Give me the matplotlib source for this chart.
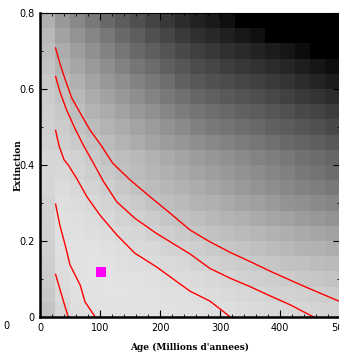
import numpy as np
import matplotlib.pyplot as plt

# Grey level of each cell (0 = black, 255 = white), rows from top (0.8) to bottom (0)
grey = [
    [176, 152, 136, 120, 106, 92, 80, 68, 56, 44, 34, 26, 16, 0, 0, 0, 0, 0, 0, 0],
    [184, 162, 148, 134, 120, 106, 94, 82, 70, 58, 48, 40, 32, 24, 16, 0, 0, 0, 0, 0],
    [190, 172, 158, 144, 130, 118, 106, 94, 84, 74, 64, 56, 48, 42, 34, 28, 22, 12, 0, 0],
    [196, 180, 166, 154, 142, 130, 118, 108, 96, 86, 76, 70, 62, 56, 50, 44, 38, 30, 22, 14],
    [200, 188, 176, 164, 152, 142, 130, 120, 110, 98, 88, 82, 76, 70, 64, 58, 52, 44, 36, 28],
    [204, 194, 184, 172, 162, 152, 142, 132, 122, 112, 102, 96, 90, 84, 78, 72, 66, 58, 52, 44],
    [206, 200, 190, 180, 172, 162, 152, 144, 134, 124, 116, 110, 104, 98, 92, 86, 80, 74, 68, 60],
    [208, 204, 196, 188, 180, 172, 164, 156, 146, 138, 128, 122, 116, 110, 104, 98, 92, 86, 80, 74],
    [210, 208, 202, 196, 188, 180, 172, 164, 156, 150, 142, 136, 130, 124, 118, 112, 106, 100, 94, 88],
    [214, 214, 210, 202, 196, 190, 184, 178, 170, 164, 156, 150, 144, 138, 132, 126, 120, 114, 108, 102],
    [214, 216, 212, 206, 200, 194, 188, 182, 176, 170, 164, 158, 152, 146, 140, 134, 128, 122, 116, 108],
    [214, 220, 216, 212, 206, 200, 194, 188, 182, 178, 172, 166, 160, 154, 148, 142, 136, 130, 126, 120],
    [212, 222, 220, 216, 212, 206, 202, 196, 190, 186, 180, 176, 170, 164, 160, 154, 148, 144, 138, 134],
    [212, 224, 222, 220, 216, 212, 208, 204, 198, 194, 190, 184, 180, 176, 170, 166, 162, 156, 152, 148],
    [210, 224, 224, 222, 220, 216, 214, 210, 206, 202, 198, 194, 190, 186, 182, 178, 174, 170, 166, 162],
    [208, 224, 226, 226, 224, 222, 218, 216, 212, 210, 206, 202, 198, 196, 192, 188, 184, 180, 178, 174],
    [206, 222, 226, 228, 226, 224, 222, 220, 218, 216, 212, 210, 206, 204, 200, 198, 194, 192, 188, 186],
    [204, 220, 226, 228, 228, 226, 226, 224, 222, 220, 218, 216, 214, 210, 208, 206, 204, 200, 198, 196],
    [200, 218, 224, 226, 228, 228, 226, 226, 224, 224, 222, 220, 218, 216, 214, 212, 210, 208, 206, 204],
    [196, 214, 222, 224, 226, 226, 226, 226, 226, 224, 224, 222, 222, 220, 218, 216, 216, 214, 212, 210],
]

# Red contour lines (age, extinction)
c1_age = [26, 33, 42, 53, 67, 83, 103, 121, 150, 183, 217, 250, 283, 317, 350, 383, 417, 450, 498]
c1_ext = [0.708, 0.668, 0.625, 0.576, 0.537, 0.493, 0.449, 0.405, 0.361, 0.317, 0.273, 0.229,
          0.198, 0.170, 0.146, 0.121, 0.097, 0.074, 0.042]
c2_age = [26, 33, 44, 58, 72, 89, 106, 128, 158, 194, 250, 283, 317, 350, 383, 417, 456]
c2_ext = [0.633, 0.594, 0.546, 0.497, 0.453, 0.405, 0.356, 0.303, 0.260, 0.220, 0.166,
          0.128, 0.102, 0.080, 0.056, 0.032, 0.0]
c3_age = [26, 32, 40, 47, 61, 78, 100, 128, 158, 194, 250, 283, 306, 317]
c3_ext = [0.491, 0.449, 0.414, 0.400, 0.365, 0.317, 0.268, 0.216, 0.168, 0.132, 0.068,
          0.042, 0.014, 0.0]
c4_age = [26, 33, 42, 50, 67, 75, 92]
c4_ext = [0.297, 0.242, 0.189, 0.137, 0.084, 0.040, 0.0]
c5_age = [26, 36, 47]
c5_ext = [0.112, 0.058, 0.0]

# Best fit
best_age = [101]
best_ext = [0.118]

fig = plt.figure(figsize=(3.39, 3.54), dpi=100)
ax = fig.add_axes([40 / 339, 37 / 354, 300 / 339, 304 / 354])

ax.imshow(np.array(grey), cmap='gray', vmin=0, vmax=255, extent=[0, 500, 0, 0.8],
          aspect='auto', interpolation='nearest', origin='upper')

for xs, ys in [(c1_age, c1_ext), (c2_age, c2_ext), (c3_age, c3_ext),
               (c4_age, c4_ext), (c5_age, c5_ext)]:
    ax.plot(xs, ys, color='red', lw=1)

ax.plot(best_age, best_ext, 's', color='magenta', markersize=7.5, markeredgewidth=0)

ax.set_xlim(0, 500)
ax.set_ylim(0, 0.8)
ax.set_xticks([0, 100, 200, 300, 400, 500])
ax.set_xticklabels(['0', '100', '200', '300', '400', '500'])
ax.set_yticks([0, 0.2, 0.4, 0.6, 0.8])
ax.set_yticklabels(['0', '0.2', '0.4', '0.6', '0.8'])
ax.set_xticks(np.arange(0, 501, 20), minor=True)
ax.set_yticks(np.arange(0, 0.81, 0.1), minor=True)
ax.tick_params(which='both', direction='in', top=True, right=True, labelsize=7, pad=4)
ax.tick_params(which='major', length=5, width=0.8)
ax.tick_params(which='minor', length=2.5, width=0.6)
for side in ['left', 'bottom']:
    ax.spines[side].set_linewidth(1.8)

ax.set_xlabel("Age (Millions d'annees)", family='DejaVu Serif', weight='bold', fontsize=6.5)
ax.xaxis.set_label_coords(0.5, -0.085)
ax.set_ylabel("Extinction", family='DejaVu Serif', weight='bold', fontsize=6.5)
ax.yaxis.set_label_coords(-0.057, 0.5)

# stray label at the far left of the x axis
fig.text(6 / 339, 1 - 326 / 354, '0', fontsize=7, ha='center', va='center')

fig.savefig('out.png', dpi=100)
